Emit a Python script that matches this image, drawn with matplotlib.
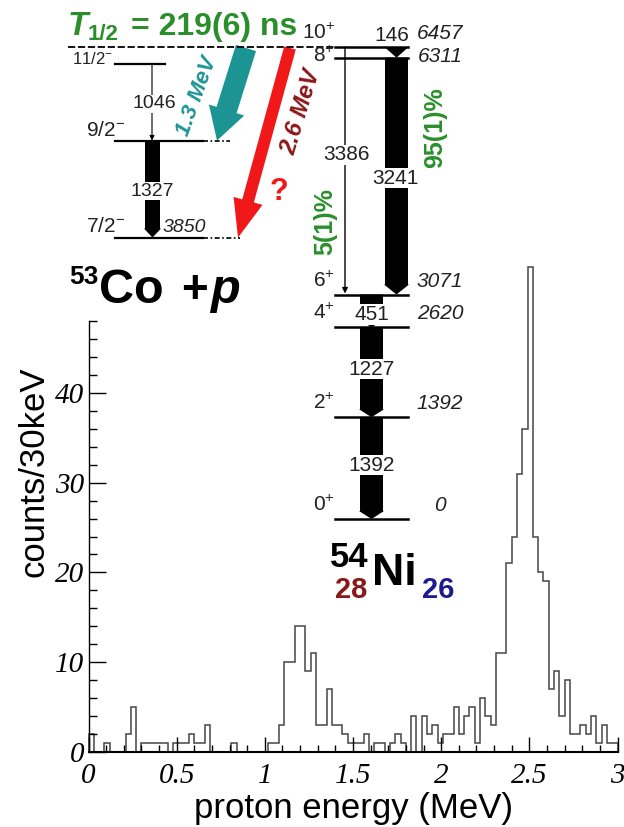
import numpy as np
import matplotlib
matplotlib.use('Agg')
import matplotlib.pyplot as plt
from matplotlib.patches import FancyArrow, Rectangle
from matplotlib.ticker import MultipleLocator

plt.rcParams['mathtext.fontset'] = 'custom'
plt.rcParams['mathtext.rm'] = 'Liberation Sans'
plt.rcParams['mathtext.it'] = 'Liberation Sans:italic'
plt.rcParams['mathtext.bf'] = 'Liberation Sans:bold'

# proton spectrum, 30 keV bins from 0 to 3 MeV
bin_edges = np.linspace(0.0, 3.0, 101)
counts = [2, 0, 0, 1, 0, 0, 0, 2, 5, 0,
          1, 1, 1, 1, 1, 0, 1, 1, 1, 2,
          1, 1, 3, 0, 0, 0, 0, 1, 0, 0,
          0, 0, 0, 0, 1, 1, 3, 10, 10, 14,
          14, 9, 11, 3, 3, 7, 3, 3, 2, 1,
          1, 1, 2, 0, 1, 1, 0, 1, 2, 1,
          0, 4, 0, 4, 2, 3, 1, 2, 2, 5,
          2, 4, 5, 1, 6, 4, 3, 11, 11, 21,
          24, 31, 36, 54, 24, 20, 19, 7, 9, 4,
          8, 2, 2, 3, 2, 4, 1, 3, 1, 1]
xticks = [0, 0.5, 1, 1.5, 2, 2.5, 3]
xtick_labels = ['0', '0.5', '1', '1.5', '2', '2.5', '3']
yticks = [0, 10, 20, 30, 40]

# level scheme (keV)
ni_levels = [6457, 6311, 3071, 2620, 1392, 0]
ni_spins = ['10$^{+}$', '8$^{+}$', '6$^{+}$', '4$^{+}$', '2$^{+}$', '0$^{+}$']
co_levels = [6223, 5177, 3850]
co_spins = ['11/2$^{-}$', '9/2$^{-}$', '7/2$^{-}$']
# (from, to, label)
ni_gammas = [(3071, 2620, '451'), (2620, 1392, '1227'), (1392, 0, '1392')]
branch_3386 = (6457, 3071, '3386')
branch_3241 = (6311, 3071, '3241')
branch_146 = (6457, 6311, '146')
co_gammas = [(6223, 5177, '1046'), (5177, 3850, '1327')]
proton_13 = (6457, 5177, '1.3 MeV')
proton_26 = (6457, 3850, '2.6 MeV')

green = '#2a8f2a'
teal = '#1d9494'
darkred = '#8b1818'

fig = plt.figure(figsize=(6.24, 8.27), dpi=100)

# ---- spectrum ----
ax = fig.add_axes([88.5 / 624, 75 / 827, 529 / 624, 431 / 827])
ax.stairs(counts, bin_edges, color='#454545', lw=1.1, clip_on=False)
ax.set_xlim(0, 3)
ax.set_ylim(0, 48)
for s in ['top', 'right']:
    ax.spines[s].set_visible(False)
ax.spines['bottom'].set_linewidth(1.5)
ax.spines['left'].set_linewidth(1.0)
ax.set_xticks(xticks)
ax.set_xticklabels(xtick_labels)
ax.set_yticks(yticks)
ax.xaxis.set_minor_locator(MultipleLocator(0.1))
ax.yaxis.set_minor_locator(MultipleLocator(2))
ax.tick_params(which='both', direction='in', top=False, right=False, width=1)
ax.tick_params(axis='x', which='major', length=11, pad=8)
ax.tick_params(axis='x', which='minor', length=5)
ax.tick_params(axis='y', which='major', length=12, pad=3)
ax.tick_params(axis='y', which='minor', length=6)
for lab in ax.get_xticklabels() + ax.get_yticklabels():
    lab.set_family('Liberation Serif')
    lab.set_style('italic')
    lab.set_fontsize(21)
ax.set_xlabel('proton energy (MeV)', fontsize=25, family='Liberation Sans')
ax.set_ylabel('counts/30keV', fontsize=25, family='Liberation Sans')
ax.yaxis.set_label_coords(-0.072, 0.65)
ax.xaxis.set_label_coords(0.5, -0.092)

# ---- level scheme overlay, pixel coordinates ----
dax = fig.add_axes([0, 0, 1, 1], facecolor='none', zorder=5)
dax.set_xlim(0, 624)
dax.set_ylim(827, 0)
dax.axis('off')


def ey(e):
    return 519 - 0.0731 * e


lab_kw = dict(family='Liberation Sans', fontsize=14, color='#222222')
box = dict(facecolor='white', edgecolor='none', pad=0.5)

# isomer line
dax.plot([68, 336], [ey(6457)] * 2, color='k', lw=1.3, dashes=(4, 1.5))

# 53Co levels
co_x0, co_x1 = 115, 203
co_ext = [None, 230, 240]
for e, sp, ext in zip(co_levels, co_spins, co_ext):
    x1 = 165 if ext is None else co_x1
    dax.plot([co_x0, x1], [ey(e)] * 2, color='k', lw=1.6)
    if ext is not None:
        dax.plot([x1, ext], [ey(e)] * 2, color='k', lw=1.2, dashes=(3, 1.5, 1, 1.5))
dax.text(113, ey(6223) + 3, co_spins[0], ha='right', va='bottom', **dict(lab_kw, fontsize=12))
dax.text(125, ey(5177) - 1, co_spins[1], ha='right', va='bottom', **dict(lab_kw, fontsize=15))
dax.text(125, ey(3850) - 2, co_spins[2], ha='right', va='bottom', **dict(lab_kw, fontsize=15))
dax.text(163, ey(3850) - 2, '3850', ha='left', va='bottom', style='italic', **lab_kw)

# 53Co gammas
e0, e1, lab = co_gammas[0]
dax.annotate('', xy=(152, ey(e1)), xytext=(152, ey(e0) + 1),
             arrowprops=dict(arrowstyle='-|>', lw=0.8, color='k', mutation_scale=7, shrinkA=0, shrinkB=0))
t = dax.text(132, 104, lab, ha='left', va='center', bbox=box, **lab_kw)
t.set_clip_path(Rectangle((120, 80), 43, 40, transform=dax.transData))
e0, e1, lab = co_gammas[1]
dax.add_patch(FancyArrow(152.5, ey(e0), 0, ey(e1) - ey(e0), width=15, head_width=17, head_length=9,
                         length_includes_head=True, color='k', lw=0))
dax.text(152, 191, lab, ha='center', va='center', bbox=box, **lab_kw)

# proton branches
e0, e1, lab = proton_13
dax.add_patch(FancyArrow(246, ey(e0) + 1, 217 - 246, ey(e1) - ey(e0) - 1, width=21, head_width=37,
                         head_length=32, length_includes_head=True, color=teal, lw=0))
dax.text(197, 96, lab, rotation=70, ha='center', va='center', color=teal, fontsize=16,
         weight='bold', style='italic', family='Liberation Sans')
e0, e1, lab = proton_26
dax.add_patch(FancyArrow(290, ey(e0) + 1, 238 - 290, ey(e1) - ey(e0) - 1, width=12, head_width=30,
                         head_length=38, length_includes_head=True, color='#f01818', lw=0))
dax.text(301, 112, lab, rotation=73, ha='center', va='center', color=darkred, fontsize=17,
         weight='bold', style='italic', family='Liberation Sans')
dax.text(279, 192, '?', ha='center', va='center', color='#f01818', fontsize=22, weight='bold',
         family='Liberation Sans')

# 54Ni levels
ni_x0, ni_x1 = 335, 408
for e, sp in zip(ni_levels, ni_spins):
    dy = 8 if e == 6311 else -4
    dax.plot([ni_x0, ni_x1], [ey(e)] * 2, color='k', lw=1.8)
    dax.text(335, ey(e) + dy, sp, ha='right', va='bottom', **dict(lab_kw, fontsize=15))
    dax.text(440, ey(e) + dy, str(e), ha='center', va='bottom', style='italic', **dict(lab_kw, fontsize=15))

# 54Ni gammas
for e0, e1, lab in ni_gammas:
    dax.add_patch(FancyArrow(371.5, ey(e0), 0, ey(e1) - ey(e0), width=23, head_width=25, head_length=8,
                             length_includes_head=True, color='k', lw=0))
    dax.text(371.5, (ey(e0) + ey(e1)) / 2 - 3 if e0 != 3071 else ey(e1) - 13, lab,
             ha='center', va='center', bbox=box, **dict(lab_kw, fontsize=15))
e0, e1, lab = branch_3241
dax.add_patch(FancyArrow(396.5, ey(e0), 0, ey(e1) - ey(e0), width=23, head_width=25, head_length=10,
                         length_includes_head=True, color='k', lw=0))
dax.text(395, 178, lab, ha='center', va='center', bbox=box, **dict(lab_kw, fontsize=15))
e0, e1, lab = branch_146
dax.add_patch(FancyArrow(396.5, ey(e0), 0, ey(e1) - ey(e0), width=23, head_width=25, head_length=11,
                         length_includes_head=True, color='k', lw=0))
dax.text(392, ey(e0) - 2, lab, ha='center', va='bottom', **dict(lab_kw, fontsize=15))
e0, e1, lab = branch_3386
dax.annotate('', xy=(345, ey(e1) - 1), xytext=(345, ey(e0)),
             arrowprops=dict(arrowstyle='-|>', lw=1.0, color='k', mutation_scale=8, shrinkA=0, shrinkB=0))
dax.text(346, 155, lab, ha='center', va='center', bbox=box, **dict(lab_kw, fontsize=15))

dax.text(325, 222, '5(1)%', rotation=90, ha='center', va='center', color=green, fontsize=18,
         weight='bold', family='Liberation Sans')
dax.text(435, 128, '95(1)%', rotation=90, ha='center', va='center', color=green, fontsize=18,
         weight='bold', family='Liberation Sans')

# half-life
dax.text(68, 35, 'T', fontsize=24, weight='bold', style='italic', color=green, family='Liberation Sans')
dax.text(88, 40, '1/2', fontsize=16, weight='bold', color=green, family='Liberation Sans')
dax.text(131, 35, '= 219(6) ns', fontsize=23, weight='bold', color=green, family='Liberation Sans')

# nuclei labels
dax.text(69, 284, '53', fontsize=19, weight='bold', family='Liberation Sans')
dax.text(99, 303, 'Co', fontsize=35, weight='bold', family='Liberation Sans')
dax.text(181, 303, '+', fontsize=33, weight='bold', family='Liberation Sans')
dax.text(210, 303, 'p', fontsize=35, weight='bold', style='italic', family='Liberation Sans')
dax.text(330, 567, '54', fontsize=25, weight='bold', family='Liberation Sans')
dax.text(372, 585, 'Ni', fontsize=32, weight='bold', family='Liberation Sans')
dax.text(335, 598, '28', fontsize=21, weight='bold', color=darkred, family='Liberation Sans')
dax.text(422, 598, '26', fontsize=21, weight='bold', color='#1c1c90', family='Liberation Sans')

fig.savefig('out.png', dpi=100)
